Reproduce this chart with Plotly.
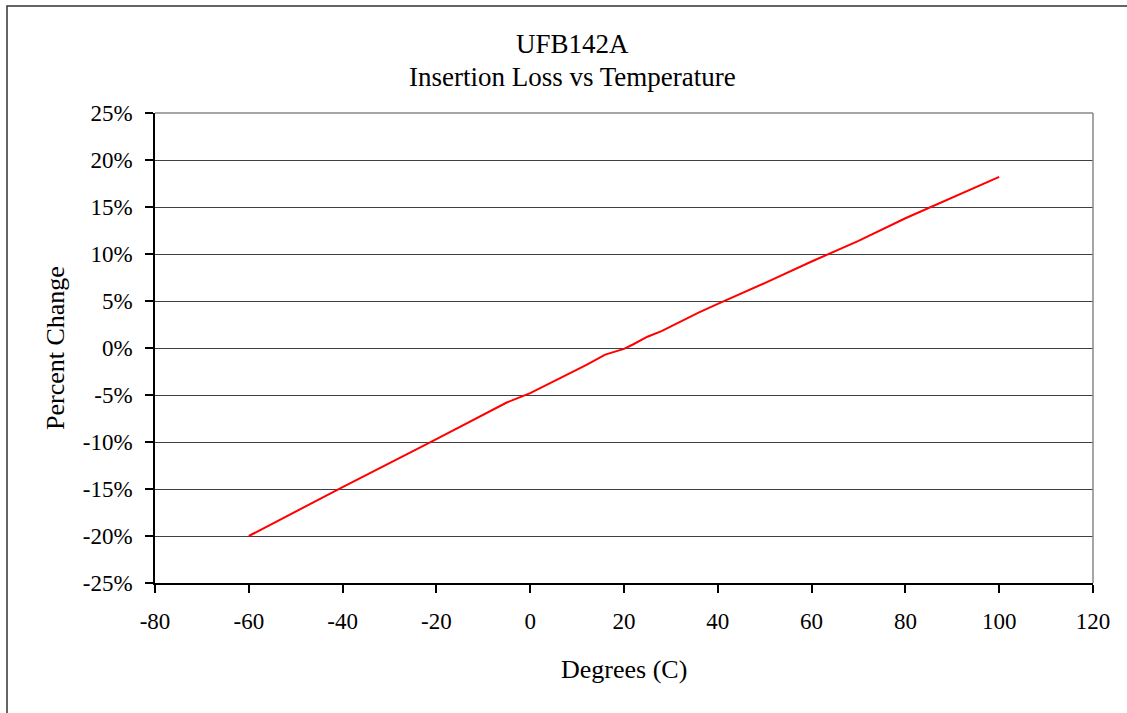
import plotly.graph_objects as go

temps = [-60, -40, -20, -5, 0, 12, 16, 20, 22, 25, 28, 36, 40, 50, 60, 70, 80, 100]
pct_change = [-20.0, -14.8, -9.7, -5.8, -4.8, -1.8, -0.7, -0.1, 0.4, 1.2, 1.8, 3.8, 4.7, 6.9, 9.2, 11.4, 13.8, 18.2]

y_ticks = [25, 20, 15, 10, 5, 0, -5, -10, -15, -20, -25]
y_tick_labels = ["25%", "20%", "15%", "10%", "5%", "0%", "-5%", "-10%", "-15%", "-20%", "-25%"]
x_ticks = [-80, -60, -40, -20, 0, 20, 40, 60, 80, 100, 120]
x_tick_labels = ["-80", "-60", "-40", "-20", "0", "20", "40", "60", "80", "100", "120"]

title_lines = ["UFB142A", "Insertion Loss vs Temperature"]

FONT = "Liberation Serif, Times New Roman, serif"
L, R, T, B = 155, 34, 113, 130
W, H = 1127, 713
PW, PH = W - L - R, H - T - B


def py(px):
    """pixel row -> paper y"""
    return (H - B - px) / PH


def pxx(px):
    return (px - L) / PW


fig = go.Figure()
fig.add_trace(go.Scatter(x=temps, y=pct_change, mode="lines",
                         line=dict(color="#ff0000", width=2), showlegend=False,
                         hoverinfo="x+y"))

fig.update_layout(
    width=W, height=H,
    margin=dict(l=L, r=R, t=T, b=B),
    paper_bgcolor="white", plot_bgcolor="white",
    font=dict(family=FONT, size=23, color="black"),
    xaxis=dict(range=[-80, 120], tickvals=x_ticks, ticktext=x_tick_labels,
               showgrid=False, zeroline=False, showline=True, linecolor="black",
               linewidth=1.5, ticks="outside", ticklen=8, tickcolor="black",
               tickwidth=1.5, mirror=False, ticklabelstandoff=9,
               tickfont=dict(family=FONT, size=23)),
    yaxis=dict(range=[-25, 25], tickvals=y_ticks, ticktext=y_tick_labels,
               showgrid=True, gridcolor="#404040", gridwidth=1.3, zeroline=False,
               showline=True, linecolor="black", linewidth=1.5,
               ticks="outside", ticklen=8, tickcolor="black", tickwidth=1.5,
               ticklabelstandoff=8,
               tickfont=dict(family=FONT, size=23)),
    annotations=[
        dict(text=title_lines[0], xref="paper", yref="paper",
             x=pxx(572), y=py(44), xanchor="center", yanchor="middle",
             showarrow=False, font=dict(family=FONT, size=27)),
        dict(text=title_lines[1], xref="paper", yref="paper",
             x=pxx(572), y=py(77), xanchor="center", yanchor="middle",
             showarrow=False, font=dict(family=FONT, size=27)),
        dict(text="Degrees (C)", xref="paper", yref="paper",
             x=0.5, y=py(669), xanchor="center", yanchor="middle",
             showarrow=False, font=dict(family=FONT, size=26)),
        dict(text="Percent Change", xref="paper", yref="paper",
             x=pxx(55), y=0.5, xanchor="center", yanchor="middle",
             textangle=-90, showarrow=False, font=dict(family=FONT, size=26)),
    ],
)

# gray top/right plot border
fig.add_shape(type="line", xref="paper", yref="paper", x0=0, x1=1, y0=1, y1=1,
              line=dict(color="#888888", width=1.5))
fig.add_shape(type="line", xref="paper", yref="paper", x0=1, x1=1, y0=0, y1=1,
              line=dict(color="#888888", width=1.5))
# outer chart border (extends beyond visible area right/bottom)
fig.add_shape(type="rect", xref="paper", yref="paper",
              x0=pxx(7), x1=1.3, y0=-0.5, y1=py(6),
              line=dict(color="#333333", width=1.5), fillcolor="rgba(0,0,0,0)",
              layer="below")

fig.write_html("out.html", config={"displayModeBar": False},
               post_script="document.body.style.margin='0';document.body.style.overflow='hidden';")
